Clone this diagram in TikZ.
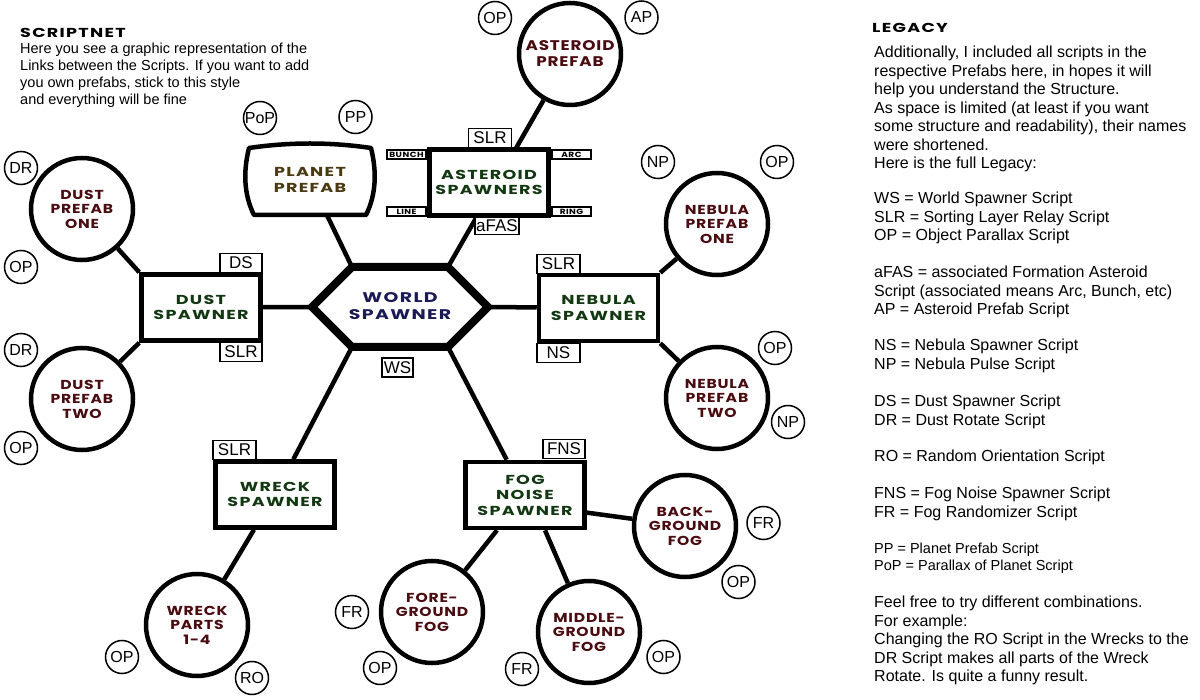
\documentclass[tikz,border=0pt]{standalone}
\usepackage{fontspec}
\setmainfont{Liberation Sans}
\newfontfamily\disp{Poppins}[FakeStretch=1.2,LetterSpace=6]
\newfontfamily\dispw{Poppins}[FakeStretch=1.35,LetterSpace=10]
\usetikzlibrary{backgrounds,calc}
\definecolor{spawngreen}{HTML}{123812}
\definecolor{prefabred}{HTML}{4A0C10}
\definecolor{planetbrown}{HTML}{4A3A12}
\definecolor{worldblue}{HTML}{1A1A55}
\tikzset{
  disptext/.style={font=\dispw\bfseries\fontsize{13}{15.5}\selectfont, align=center},
  spawnbox/.style={draw, line width=4.5, fill=white, minimum width=119, minimum height=66, inner sep=0, disptext, text=spawngreen},
  prefab/.style={draw, circle, line width=4.5, fill=white, minimum size=102, inner sep=0, align=center, font=\disp\bfseries\fontsize{13}{14.5}\selectfont, text=prefabred},
  scriptc/.style={draw, circle, line width=1.5, fill=white, minimum size=33, inner sep=0, font=\fontsize{16}{16}\selectfont},
  tagbox/.style={draw, line width=1.5, fill=white, minimum height=19, inner sep=1, font=\fontsize{17}{17}\selectfont},
  ftag/.style={draw, line width=2, fill=white, minimum width=39, minimum height=9, inner sep=0, font=\disp\bfseries\fontsize{7.5}{7.5}\selectfont},
  link/.style={line width=4.5},
  heading/.style={anchor=north west, inner sep=0, font=\dispw\bfseries\fontsize{13}{13}\selectfont},
  legend/.style={anchor=north west, inner sep=0, align=left, font=\fontsize{16}{18.5}\selectfont},
  intro/.style={anchor=north west, inner sep=0, align=left, font=\fontsize{14.5}{17.2}\selectfont},
}
\begin{document}
\begin{tikzpicture}[x=1pt,y=-1pt]
\useasboundingbox (0,0) rectangle (1200,700);

% ---------- texts ----------
\node[heading] (t1) at (20,28) {SCRIPTNET};
\node[intro] (t2) at (20,42.5) {Here you see a graphic representation of the\\Links between the Scripts. If you want to add\\you own prefabs, stick to this style\\and everything will be fine};

\node[heading] (l0) at (872,23) {LEGACY};
\node[legend] (l1) at (874,46) {Additionally, I included all scripts in the\\respective Prefabs here, in hopes it will\\help you understand the Structure.\\As space is limited (at least if you want\\some structure and readability), their names\\were shortened.\\Here is the full Legacy:};
\node[legend] (l2) at (874,192) {WS = World Spawner Script\\SLR = Sorting Layer Relay Script\\OP = Object Parallax Script};
\node[legend] (l3) at (874,266) {aFAS = associated Formation Asteroid\\Script (associated means Arc, Bunch, etc)\\AP = Asteroid Prefab Script};
\node[legend] (l4) at (874,339) {NS = Nebula Spawner Script\\NP = Nebula Pulse Script};
\node[legend] (l5) at (874,395) {DS = Dust Spawner Script\\DR = Dust Rotate Script};
\node[legend] (l6) at (874,450) {RO = Random Orientation Script};
\node[legend] (l7) at (874,487) {FNS = Fog Noise Spawner Script\\FR = Fog Randomizer Script};
\node[legend, font=\fontsize{14.5}{17}\selectfont] (l8) at (874,542.5) {PP = Planet Prefab Script\\PoP = Parallax of Planet Script};
\node[legend] (l9) at (874,596) {Feel free to try different combinations.\\For example:\\Changing the RO Script in the Wrecks to the\\DR Script makes all parts of the Wreck\\Rotate. Is quite a funny result.};

% ---------- world spawner ----------
\coordinate (hW) at (312,307);
\coordinate (hNW) at (352,267);
\coordinate (hNE) at (448,267);
\coordinate (hE) at (488,307);
\coordinate (hSE) at (448,347);
\coordinate (hSW) at (352,347);
\draw[line width=8, fill=white, line join=miter] (hW) -- (hNW) -- (hNE) -- (hE) -- (hSE) -- (hSW) -- cycle;
\node[disptext, text=worldblue, font=\dispw\bfseries\fontsize{14}{17}\selectfont] (world) at (400,306) {WORLD\\SPAWNER};
\node[tagbox, minimum width=31] (ws) at (397.5,367.5) {WS};

% ---------- planet ----------
\draw[line width=4.5, fill=white, line join=round]
  (249,148) .. controls (290,142) and (330,142) .. (371,148)
  .. controls (377,172) and (376,195) .. (366,215) -- (254,215)
  .. controls (244,195) and (243,172) .. (249,148) -- cycle;
\node[disptext, text=planetbrown] (planet) at (310,180) {PLANET\\PREFAB};
\node[scriptc] (pop) at (260,118) {PoP};
\node[scriptc] (pp) at (355.5,117) {PP};

% ---------- asteroids ----------
\node[spawnbox] (aspawn) at (489,182.5) {ASTEROID\\SPAWNERS};
\node[tagbox, minimum width=43] (aslr) at (490,138) {SLR};
\node[tagbox, minimum width=40, minimum height=17] (afas) at (497,226) {aFAS};
\node[ftag] (bunch) at (406.5,155) {BUNCH};
\node[ftag] (line) at (406.5,212) {LINE};
\node[ftag] (arc) at (571.5,155) {ARC};
\node[ftag] (ring) at (571.5,212) {RING};
\node[prefab, font=\disp\bfseries\fontsize{14}{16}\selectfont] (aprefab) at (570,54) {ASTEROID\\PREFAB};
\node[scriptc] (aop) at (495,18) {OP};
\node[scriptc] (aap) at (641.5,17.5) {AP};

% ---------- dust ----------
\node[spawnbox] (dspawn) at (201,307.5) {DUST\\SPAWNER};
\node[tagbox, minimum width=42] (ds) at (241,263) {DS};
\node[tagbox, minimum width=42] (dslr) at (241,352) {SLR};
\node[prefab] (dp1) at (82,209) {DUST\\PREFAB\\ONE};
\node[prefab] (dp2) at (82,399) {DUST\\PREFAB\\TWO};
\node[scriptc] (ddr1) at (21,168) {DR};
\node[scriptc] (dop1) at (21,267) {OP};
\node[scriptc] (ddr2) at (21,350) {DR};
\node[scriptc] (dop2) at (21,448) {OP};

% ---------- nebula ----------
\node[spawnbox] (nspawn) at (598.5,308) {NEBULA\\SPAWNER};
\node[tagbox, minimum width=43] (nslr) at (558.5,264) {SLR};
\node[tagbox, minimum width=43] (ns) at (558.5,353) {NS};
\node[prefab] (np1) at (717,224) {NEBULA\\PREFAB\\ONE};
\node[prefab] (np2) at (717,398) {NEBULA\\PREFAB\\TWO};
\node[scriptc] (nnp1) at (658,162) {NP};
\node[scriptc] (nop1) at (777,162) {OP};
\node[scriptc] (nop2) at (775,348) {OP};
\node[scriptc] (nnp2) at (788,422) {NP};

% ---------- wreck ----------
\node[spawnbox] (wspawn) at (275,494.5) {WRECK\\SPAWNER};
\node[tagbox, minimum width=43] (wslr) at (234.5,450) {SLR};
\node[prefab] (wparts) at (197,625) {WRECK\\PARTS\\1-4};
\node[scriptc] (wop) at (122,657) {OP};
\node[scriptc] (wro) at (252,678) {RO};

% ---------- fog ----------
\node[spawnbox] (fspawn) at (525,495) {FOG\\NOISE\\SPAWNER};
\node[tagbox, minimum width=42] (fns) at (564,449) {FNS};
\node[prefab] (bgfog) at (685,526) {BACK-\\GROUND\\FOG};
\node[prefab] (mgfog) at (589,632) {MIDDLE-\\GROUND\\FOG};
\node[prefab] (fgfog) at (432,612) {FORE-\\GROUND\\FOG};
\node[scriptc] (bfr) at (763.5,523) {FR};
\node[scriptc] (bop) at (738.5,582) {OP};
\node[scriptc] (mop) at (663.5,657) {OP};
\node[scriptc] (mfr) at (522,669) {FR};
\node[scriptc] (ffr) at (352,612) {FR};
\node[scriptc] (fop) at (380,668) {OP};

% ---------- connectors ----------
\begin{pgfonlayer}{background}
\fill[white] (0,0) rectangle (1200,700);
\draw[link] (hNW) -- (planet);
\draw[link] (hNE) -- (aprefab);
\draw[link] (hW) -- (dspawn);
\draw[link] (hE) -- (nspawn);
\draw[link] (hSW) -- (wspawn);
\draw[link] (hSE) -- (fspawn);
\draw[link] (dspawn.north west) -- (dp1);
\draw[link] (dspawn.south west) -- (dp2);
\draw[link] (nspawn.north east) -- (np1);
\draw[link] (nspawn.south east) -- (np2);
\draw[link] (wspawn) -- (wparts);
\draw[link] ($(fspawn.east)!0.5!(fspawn.south east)$) -- (bgfog);
\draw[link] ($(fspawn.south)+(20,0)$) -- (mgfog);
\draw[link] (fspawn) -- (fgfog);
\end{pgfonlayer}
\end{tikzpicture}
\end{document}
